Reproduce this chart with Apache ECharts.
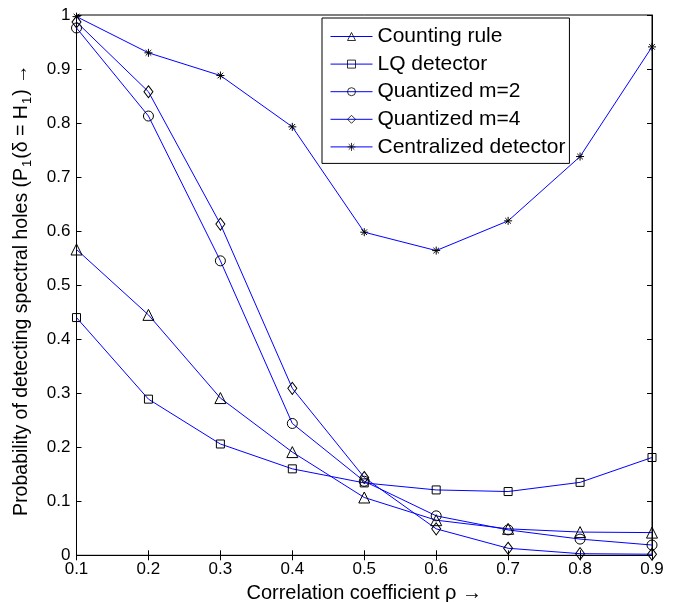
<!DOCTYPE html>
<html>
<head>
<meta charset="utf-8">
<script src="https://cdn.jsdelivr.net/npm/echarts@6/dist/echarts.min.js"></script>
<style>
  html, body { margin: 0; padding: 0; background: #fff; }
  #chart { width: 677px; height: 602px; }
</style>
</head>
<body>
<div id="chart"></div>
<script>
// Correlation coefficient values on the x axis
const rho = [0.1, 0.2, 0.3, 0.4, 0.5, 0.6, 0.7, 0.8, 0.9];

// Detection probability for each scheme
const countingRule = [0.566, 0.445, 0.291, 0.191, 0.107, 0.065, 0.049, 0.043, 0.042];
const lqDetector   = [0.440, 0.289, 0.206, 0.160, 0.134, 0.121, 0.118, 0.135, 0.181];
const quantizedM2  = [0.976, 0.813, 0.545, 0.244, 0.137, 0.073, 0.047, 0.030, 0.019];
const quantizedM4  = [0.987, 0.858, 0.613, 0.309, 0.144, 0.049, 0.013, 0.003, 0.002];
const centralized  = [0.997, 0.930, 0.888, 0.793, 0.598, 0.564, 0.619, 0.738, 0.941];

const seriesNames = ['Counting rule', 'LQ detector', 'Quantized m=2', 'Quantized m=4', 'Centralized detector'];

// Tick labels
const xTickLabels = ['0.1', '0.2', '0.3', '0.4', '0.5', '0.6', '0.7', '0.8', '0.9'];
const yTickLabels = ['0', '0.1', '0.2', '0.3', '0.4', '0.5', '0.6', '0.7', '0.8', '0.9', '1'];

const FONT = '"Liberation Sans", Arial, Helvetica, sans-serif';
const BLUE = '#0000ff';

// Asterisk marker: vertical, horizontal and two diagonal strokes
const STAR = 'path://M5,0L5,10M0,5L10,5M1.5,1.5L8.5,8.5M1.5,8.5L8.5,1.5';

function pairs(values) {
  return rho.map((x, i) => [x, values[i]]);
}

function lineSeries(name, values, symbol, size) {
  return {
    name: name,
    type: 'line',
    data: pairs(values),
    symbol: symbol,
    symbolSize: size,
    showAllSymbol: true,
    lineStyle: { color: BLUE, width: 1 },
    itemStyle: { color: 'rgba(0,0,0,0)', borderColor: '#000', borderWidth: 1 },
    emphasis: { disabled: true },
    animation: false,
    z: 3
  };
}

const tickFmtX = v => xTickLabels[Math.round(v * 10) - 1] || '';
const tickFmtY = v => yTickLabels[Math.round(v * 10)] || '';

const chart = echarts.init(document.getElementById('chart'), null, { renderer: 'canvas' });

chart.setOption({
  animation: false,
  backgroundColor: '#fff',
  textStyle: { fontFamily: FONT },
  grid: {
    left: 76.5, right: 25, top: 15, bottom: 46.7,
    outerBoundsMode: 'none',
    containLabel: false,
    show: true, borderColor: '#000', borderWidth: 1, backgroundColor: '#fff'
  },
  legend: {
    orient: 'vertical',
    left: 322,
    top: 18,
    data: seriesNames,
    itemWidth: 42,
    itemHeight: 10,
    itemGap: 6.6,
    padding: [8, 4, 6, 8],
    backgroundColor: '#fff',
    borderColor: '#000',
    borderWidth: 1,
    borderRadius: 0,
    itemStyle: { color: 'rgba(0,0,0,0)', borderColor: '#000', borderWidth: 0.8 },
    lineStyle: { color: BLUE, width: 1 },
    textStyle: { fontFamily: FONT, fontSize: 21, color: '#000' },
    selectedMode: false
  },
  xAxis: [
    {
      type: 'value', position: 'bottom',
      min: 0.1, max: 0.9, interval: 0.1,
      name: 'Correlation coefficient ρ →',
      nameLocation: 'middle', nameGap: 26,
      nameTextStyle: { fontFamily: FONT, fontSize: 20, color: '#000' },
      axisLine: { show: true, lineStyle: { color: '#000', width: 1 } },
      axisTick: { show: true, inside: true, length: 5, lineStyle: { color: '#000' } },
      axisLabel: { formatter: tickFmtX, fontFamily: FONT, fontSize: 17, color: '#000', margin: 6 },
      splitLine: { show: false }
    },
    {
      type: 'value', position: 'top',
      min: 0.1, max: 0.9, interval: 0.1,
      axisLine: { show: true, lineStyle: { color: '#000', width: 1 } },
      axisTick: { show: true, inside: true, length: 5, lineStyle: { color: '#000' } },
      axisLabel: { show: false },
      splitLine: { show: false }
    }
  ],
  yAxis: [
    {
      type: 'value', position: 'left',
      min: 0, max: 1, interval: 0.1,
      name: '{a|Probability of detecting spectral holes (P}{s|1}{a|(δ = H}{s|1}{a|) →}',
      nameLocation: 'middle', nameGap: 43, nameRotate: 90,
      nameTextStyle: {
        fontFamily: FONT, fontSize: 19.5, color: '#000',
        padding: [0, 10, 0, 0],
        rich: {
          a: { fontFamily: FONT, fontSize: 19.5, color: '#000' },
          s: { fontFamily: FONT, fontSize: 13, color: '#000', padding: [10, 1, 0, 1] }
        }
      },
      axisLine: { show: true, lineStyle: { color: '#000', width: 1 } },
      axisTick: { show: true, inside: true, length: 5, lineStyle: { color: '#000' } },
      axisLabel: { formatter: tickFmtY, fontFamily: FONT, fontSize: 17, color: '#000', margin: 6 },
      splitLine: { show: false }
    },
    {
      type: 'value', position: 'right',
      min: 0, max: 1, interval: 0.1,
      axisLine: { show: true, lineStyle: { color: '#000', width: 1 } },
      axisTick: { show: true, inside: true, length: 5, lineStyle: { color: '#000' } },
      axisLabel: { show: false },
      splitLine: { show: false }
    }
  ],
  series: [
    lineSeries(seriesNames[0], countingRule, 'triangle', 11),
    lineSeries(seriesNames[1], lqDetector, 'rect', 8),
    lineSeries(seriesNames[2], quantizedM2, 'circle', 10),
    lineSeries(seriesNames[3], quantizedM4, 'diamond', [9, 12]),
    lineSeries(seriesNames[4], centralized, STAR, 8)
  ]
});
</script>
</body>
</html>
